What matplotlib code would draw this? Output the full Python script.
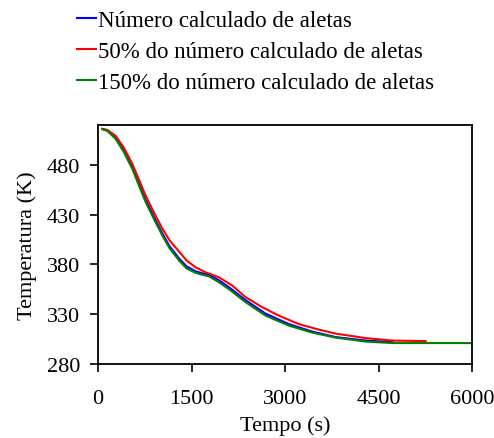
import matplotlib
matplotlib.use("Agg")
import matplotlib.pyplot as plt

plt.rcParams['font.family'] = ['Liberation Serif', 'DejaVu Serif']

# dados (tempo em s, temperatura em K)
t_calc = [70, 150, 284, 417, 550, 658, 765, 898, 1032, 1150, 1300, 1420,
          1567, 1650, 1781, 1941, 2102, 2369, 2690, 3064, 3438, 3813, 4295,
          4722]
T_calc = [516, 514.5, 507, 494, 477.5, 461, 444.5, 427.5, 411, 398, 386, 378,
          373, 371.5, 369.5, 364, 357, 344, 330.5, 320, 312.5, 307, 303.5,
          302]

t_50 = [70, 150, 284, 417, 550, 658, 765, 898, 1032, 1150, 1300, 1420, 1567,
        1728, 1941, 2155, 2369, 2636, 2904, 3225, 3545, 3813, 4295, 4722,
        5257]
T_50 = [516, 515, 509, 497, 481, 465, 449, 432, 416, 404, 393, 384, 377,
        372, 367, 358.7, 347, 337, 328.5, 320, 314.5, 310.5, 306, 303.5, 303]

t_150 = [70, 150, 284, 417, 550, 658, 765, 898, 1032, 1150, 1300, 1420, 1567,
         1650, 1781, 1941, 2102, 2369, 2690, 3064, 3438, 3813, 4295, 4722,
         6000]
T_150 = [516, 514, 506, 492.5, 476, 459, 442.5, 425.5, 409, 396, 384, 376,
         371.5, 370, 368, 362, 355, 342, 328.5, 318.5, 311.5, 306.5, 302.5,
         301, 301]

labels = ["Número calculado de aletas",
          "50% do número calculado de aletas",
          "150% do número calculado de aletas"]

fig = plt.figure(figsize=(4.94, 4.39), dpi=100)
ax = fig.add_axes([0.1984, 0.1686, 0.7571, 0.5444])

ax.plot(t_calc, T_calc, color='#0000ff', lw=1.5, label=labels[0])
ax.plot(t_50, T_50, color='#ff0000', lw=1.5, label=labels[1])
ax.plot(t_150, T_150, color='#008000', lw=1.5, label=labels[2])

ax.set_xlim(0, 6000)
ax.set_ylim(280, 520)
ax.set_xticks([0, 1500, 3000, 4500, 6000])
ax.set_yticks([280, 330, 380, 430, 480])
ax.tick_params(direction='out', length=6, width=1.2, labelsize=16)
ax.tick_params(axis='x', pad=12)
ax.tick_params(axis='y', pad=7)
for s in ax.spines.values():
    s.set_linewidth(1.3)

ax.set_xlabel("Tempo (s)", fontsize=16, labelpad=5)
ax.set_ylabel("Temperatura (K)", fontsize=16, labelpad=7)

fig.legend(loc='upper left', bbox_to_anchor=(0.138, 0.995), frameon=False,
           fontsize=16.5, handlelength=0.8, handletextpad=0.12,
           labelspacing=0.42, borderaxespad=0)

fig.savefig("out.png", dpi=100)
